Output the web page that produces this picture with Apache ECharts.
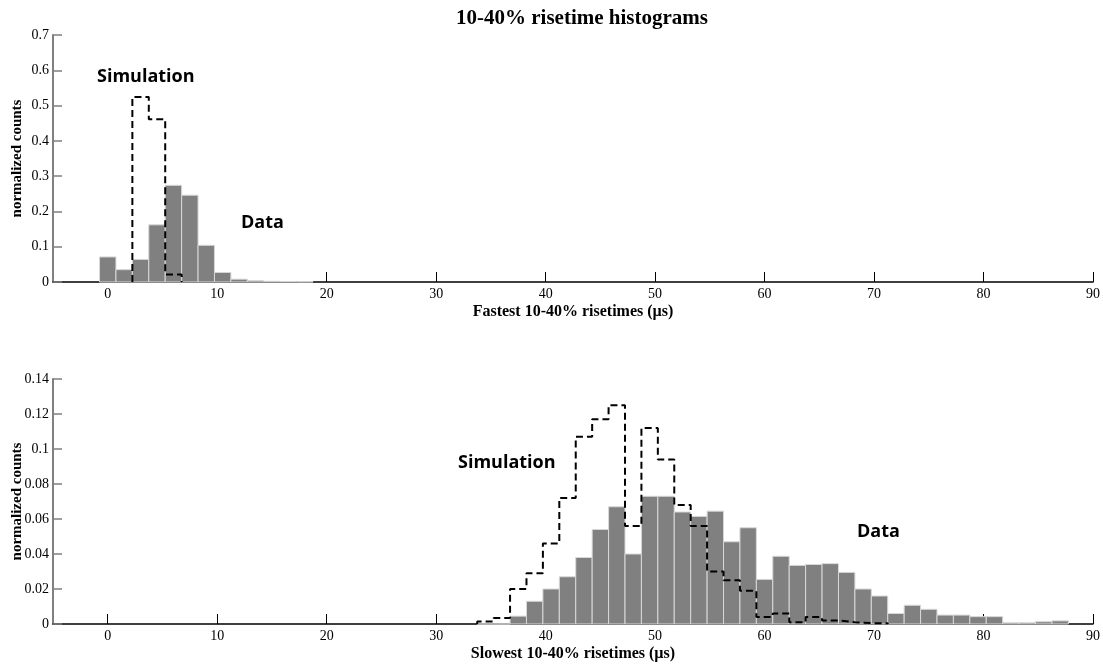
<!DOCTYPE html>
<html>
<head>
<meta charset="utf-8">
<script src="https://cdn.jsdelivr.net/npm/echarts@6/dist/echarts.min.js"></script>
<style>
html,body{margin:0;padding:0;background:#fff;}
#chart{width:1103px;height:666px;}
</style>
</head>
<body>
<div id="chart"></div>
<script>
// ---- data ----
const BIN_WIDTH = 1.5;
const xTickValues = [0, 10, 20, 30, 40, 50, 60, 70, 80, 90];

// Top panel: fastest risetimes
const topCenters = [0, 1.5, 3, 4.5, 6, 7.5, 9, 10.5, 12, 13.5, 15, 16.5, 18];
const topData    = [0.071, 0.035, 0.064, 0.162, 0.274, 0.246, 0.104, 0.027, 0.008, 0.004, 0.002, 0.0015, 0.001];
const topSim     = [0, 0, 0.524, 0.461, 0.021, 0, 0, 0, 0, 0, 0, 0, 0];

// Bottom panel: slowest risetimes
const botCenters = [34.5, 36, 37.5, 39, 40.5, 42, 43.5, 45, 46.5, 48, 49.5, 51, 52.5, 54, 55.5, 57, 58.5,
                    60, 61.5, 63, 64.5, 66, 67.5, 69, 70.5, 72, 73.5, 75, 76.5, 78, 79.5, 81, 82.5, 84, 85.5, 87];
const botData    = [0, 0, 0.0045, 0.013, 0.020, 0.027, 0.038, 0.054, 0.067, 0.040, 0.073, 0.073, 0.064, 0.0615, 0.0645, 0.047, 0.055,
                    0.0255, 0.0387, 0.0335, 0.034, 0.0345, 0.0295, 0.020, 0.016, 0.006, 0.0107, 0.0084, 0.0051, 0.0051, 0.0042, 0.0042, 0.0007, 0.0007, 0.0013, 0.0018];
const botSim     = [0.0015, 0.0034, 0.020, 0.029, 0.046, 0.072, 0.107, 0.117, 0.125, 0.056, 0.112, 0.094, 0.068, 0.056, 0.030, 0.025, 0.019,
                    0.004, 0.006, 0.001, 0.004, 0.002, 0.001, 0.0005, 0.0005, 0, 0, 0, 0, 0, 0, 0, 0, 0, 0, 0];

const topYTicks = { min: 0, max: 0.7, interval: 0.1 };
const botYTicks = { min: 0, max: 0.14, interval: 0.02 };

// ---- helpers ----
function barPairs(centers, vals) {
  return centers.map((c, i) => [c, vals[i]]);
}
function stepPoints(centers, vals) {
  let i0 = vals.findIndex(v => v > 0);
  let i1 = vals.length - 1 - [...vals].reverse().findIndex(v => v > 0);
  const h = BIN_WIDTH / 2;
  const pts = [[centers[i0] - h, 0]];
  for (let i = i0; i <= i1; i++) {
    pts.push([centers[i] - h, vals[i]]);
    pts.push([centers[i] + h, vals[i]]);
  }
  pts.push([centers[i1] + h, 0]);
  return pts;
}
function renderBin(params, api) {
  const c = api.value(0), v = api.value(1);
  const p0 = api.coord([c - BIN_WIDTH / 2, v]);
  const p1 = api.coord([c + BIN_WIDTH / 2, 0]);
  return {
    type: 'rect',
    shape: { x: p0[0], y: p0[1], width: p1[0] - p0[0], height: p1[1] - p0[1] },
    style: { fill: '#808080', stroke: '#d8d8d8', lineWidth: 1 }
  };
}

const serif = '"Liberation Serif", "Times New Roman", serif';
const sans = '"Open Sans", "DejaVu Sans", sans-serif';

function xAxis(gridIndex, name) {
  return {
    type: 'value', gridIndex, min: -5, max: 90,
    name, nameLocation: 'middle', nameGap: 22, nameMoveOverlap: false,
    nameTextStyle: { fontFamily: serif, fontWeight: 'bold', fontSize: 16, color: '#000' },
    axisLine: { show: true, onZero: false, lineStyle: { color: '#000', width: 1.5 } },
    axisTick: { show: true, inside: true, length: 10, customValues: xTickValues, lineStyle: { color: '#000', width: 1 } },
    axisLabel: { customValues: xTickValues, fontFamily: serif, fontSize: 14, color: '#000', margin: 5 },
    splitLine: { show: false }
  };
}
function yAxis(gridIndex, t) {
  return {
    type: 'value', gridIndex, min: t.min, max: t.max, interval: t.interval,
    name: 'normalized counts', nameLocation: 'middle', nameGap: 28, nameRotate: 90, nameMoveOverlap: false,
    nameTextStyle: { fontFamily: serif, fontWeight: 'bold', fontSize: 15, color: '#000' },
    axisLine: { show: true, onZero: false, lineStyle: { color: '#808080', width: 2 } },
    axisTick: { show: true, inside: true, length: 9, lineStyle: { color: '#808080', width: 1.5 } },
    axisLabel: { fontFamily: serif, fontSize: 14, color: '#000', margin: 4 },
    splitLine: { show: false }
  };
}
function note(text, x, y) {
  return { type: 'text', x, y, style: { text, fontFamily: sans, fontWeight: 'bold', fontSize: 18, fill: '#000', verticalAlign: 'middle', align: 'left' } };
}

const chart = echarts.init(document.getElementById('chart'), null, { renderer: 'canvas' });
chart.setOption({
  animation: false,
  backgroundColor: '#fff',
  title: {
    text: '10-40% risetime histograms',
    left: 577, top: 3, textAlign: 'center',
    textStyle: { fontFamily: serif, fontWeight: 'bold', fontSize: 21, color: '#000' }
  },
  grid: [
    { left: 53, right: 10, top: 35, height: 247, outerBoundsMode: 'none', containLabel: false },
    { left: 53, right: 10, top: 379, height: 245, outerBoundsMode: 'none', containLabel: false }
  ],
  xAxis: [xAxis(0, 'Fastest 10-40% risetimes (\u00b5s)'), xAxis(1, 'Slowest 10-40% risetimes (\u00b5s)')],
  yAxis: [yAxis(0, topYTicks), yAxis(1, botYTicks)],
  graphic: [
    note('Simulation', 97, 77),
    note('Data', 241, 223),
    note('Simulation', 458, 463),
    note('Data', 857, 532)
  ],
  series: [
    { type: 'custom', xAxisIndex: 0, yAxisIndex: 0, renderItem: renderBin, data: barPairs(topCenters, topData), z: 3 },
    { type: 'line', xAxisIndex: 0, yAxisIndex: 0, data: stepPoints(topCenters, topSim), showSymbol: false,
      lineStyle: { color: '#000', width: 2, type: [7, 4] }, z: 4 },
    { type: 'custom', xAxisIndex: 1, yAxisIndex: 1, renderItem: renderBin, data: barPairs(botCenters, botData), z: 3 },
    { type: 'line', xAxisIndex: 1, yAxisIndex: 1, data: stepPoints(botCenters, botSim), showSymbol: false,
      lineStyle: { color: '#000', width: 2, type: [7, 4] }, z: 4 }
  ]
});
</script>
</body>
</html>
